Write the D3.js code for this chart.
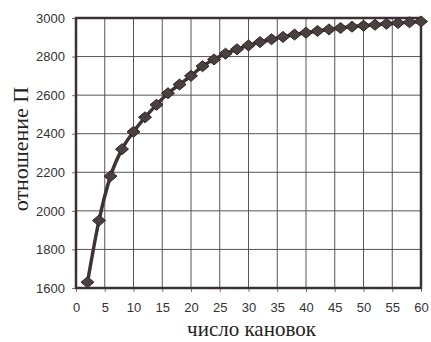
<!DOCTYPE html>
<html>
<head>
<meta charset="utf-8">
<script src="https://cdn.jsdelivr.net/npm/d3@7"></script>
<style>
  html, body { margin: 0; padding: 0; background: #fff; }
  svg { display: block; }
</style>
</head>
<body>
<script>
const xValues = [2,4,6,8,10,12,14,16,18,20,22,24,26,28,30,32,34,36,38,40,42,44,46,48,50,52,54,56,58,60];
const yValues = [1630,1950,2180,2320,2410,2485,2550,2610,2655,2700,2750,2785,2815,2838,2858,2875,2890,2902,2914,2924,2933,2941,2948,2955,2960,2965,2970,2974,2978,2982];
const xTicks = [0,5,10,15,20,25,30,35,40,45,50,55,60];
const yTicks = [1600,1800,2000,2200,2400,2600,2800,3000];
const xTitle = "число кановок";
const yTitle = "отношение П";

const W = 431, H = 342;
const m = {left: 76, right: 10, top: 18, bottom: 54};

const svg = d3.select("body").append("svg").attr("width", W).attr("height", H);

const x = d3.scaleLinear().domain([0, 60]).range([m.left, W - m.right]);
const y = d3.scaleLinear().domain([1600, 3000]).range([H - m.bottom, m.top]);

// grid
const g = svg.append("g");
g.selectAll("line.vg").data(xTicks.slice(1, -1)).enter().append("line")
  .attr("x1", d => x(d)).attr("x2", d => x(d))
  .attr("y1", y(3000)).attr("y2", y(1600))
  .attr("stroke", "#555").attr("stroke-width", 1);
g.selectAll("line.hg").data(yTicks.slice(1, -1)).enter().append("line")
  .attr("x1", x(0)).attr("x2", x(60))
  .attr("y1", d => y(d)).attr("y2", d => y(d))
  .attr("stroke", "#555").attr("stroke-width", 1);

// axes
const xAxis = d3.axisBottom(x).tickValues(xTicks).tickSize(4).tickPadding(11).tickFormat(d3.format("d"));
const yAxis = d3.axisLeft(y).tickValues(yTicks).tickSize(4).tickPadding(7).tickFormat(d3.format("d"));

const gx = svg.append("g").attr("transform", `translate(0,${y(1600)})`).call(xAxis);
const gy = svg.append("g").attr("transform", `translate(${x(0)},0)`).call(yAxis);
[gx, gy].forEach(a => {
  a.select(".domain").remove();
  a.selectAll(".tick line").attr("stroke", "#777");
  a.selectAll(".tick text").attr("font-family", "Arial, 'Liberation Sans', sans-serif")
    .attr("font-size", 13).attr("fill", "#333");
});

// frame
svg.append("rect")
  .attr("x", x(0)).attr("y", y(3000))
  .attr("width", x(60) - x(0)).attr("height", y(1600) - y(3000))
  .attr("fill", "none").attr("stroke", "#3a3232").attr("stroke-width", 2.5);

// line
const data = xValues.map((v, i) => [v, yValues[i]]);
svg.append("path").datum(data)
  .attr("fill", "none").attr("stroke", "#3e3434").attr("stroke-width", 3.5)
  .attr("d", d3.line().x(d => x(d[0])).y(d => y(d[1])).curve(d3.curveMonotoneX));

// markers (slightly wide diamonds)
const hw = 6.5, hh = 5.5;
const diamond = `M0,${-hh}L${hw},0L0,${hh}L${-hw},0Z`;
svg.selectAll("path.mk").data(data).enter().append("path")
  .attr("transform", d => `translate(${x(d[0])},${y(d[1])})`)
  .attr("d", diamond)
  .attr("fill", "#4a4040").attr("stroke", "#2e2626").attr("stroke-width", 1);

// titles
svg.append("text")
  .attr("x", (x(0) + x(60)) / 2 + 3).attr("y", 336)
  .attr("text-anchor", "middle")
  .attr("font-family", "'Liberation Serif', 'Times New Roman', serif")
  .attr("font-size", 21).attr("fill", "#222")
  .text(xTitle);

svg.append("text")
  .attr("transform", `translate(28,149) rotate(-90)`)
  .attr("text-anchor", "middle")
  .attr("font-family", "'Liberation Serif', 'Times New Roman', serif")
  .attr("font-size", 22).attr("fill", "#222")
  .text(yTitle);
</script>
</body>
</html>
